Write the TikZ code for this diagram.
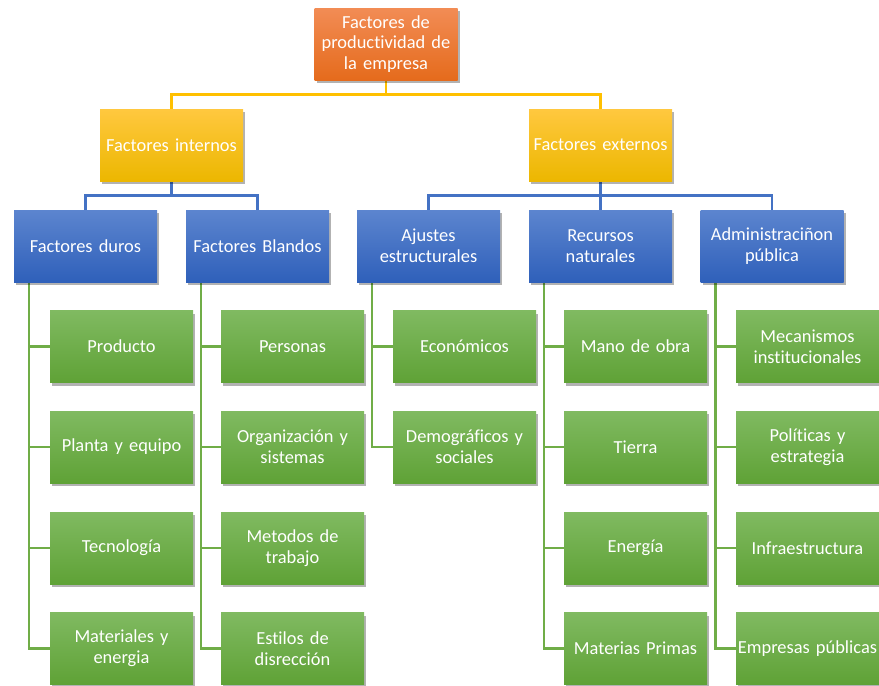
\documentclass[tikz,border=0pt]{standalone}
\usepackage{fontspec}
\setmainfont{Carlito}[Ligatures=NoCommon,WordSpace=0.8]
\usetikzlibrary{shadows,backgrounds}
\definecolor{orT}{HTML}{F28C55}
\definecolor{orB}{HTML}{E56B1C}
\definecolor{yeT}{HTML}{FFC83F}
\definecolor{yeB}{HTML}{ECB700}
\definecolor{blT}{HTML}{5C85CF}
\definecolor{blB}{HTML}{2F60BA}
\definecolor{grT}{HTML}{80BA61}
\definecolor{grB}{HTML}{5FA236}
\definecolor{lnY}{HTML}{FFC000}
\definecolor{lnB}{HTML}{4472C4}
\definecolor{lnG}{HTML}{70AD47}
\tikzset{
  boxbase/.style={minimum width=143pt, minimum height=72pt, inner sep=0pt,
    text width=141pt, align=center, text=white,
    font=\fontsize{18.4}{20.7}\selectfont,
    drop shadow={shadow xshift=2pt, shadow yshift=-3pt, opacity=0.3, fill=black}},
  orbox/.style={boxbase, top color=orT, bottom color=orB},
  yebox/.style={boxbase, top color=yeT, bottom color=yeB},
  blbox/.style={boxbase, top color=blT, bottom color=blB},
  grbox/.style={boxbase, top color=grT, bottom color=grB},
  lineY/.style={draw=lnY, line width=2.6pt},
  lineB/.style={draw=lnB, line width=2.6pt},
  lineG/.style={draw=lnG, line width=2.4pt},
}
\begin{document}
\begin{tikzpicture}[x=1pt,y=-1pt]
\useasboundingbox (0,0) rectangle (879,686);
\node[orbox] (top) at (386,44) {Factores de\\productividad de\\la empresa};
\node[yebox] (int) at (171.5,145) {Factores internos};
\node[yebox] (ext) at (600.5,145) {Factores externos};
\node[blbox] (duros) at (85.5,246) {Factores duros};
\node[blbox] (bland) at (257.5,246) {Factores Blandos};
\node[blbox] (ajus) at (428.5,246) {Ajustes\\estructurales};
\node[blbox] (recu) at (600.5,246) {Recursos\\naturales};
\node[blbox] (admi) at (772,246) {Administraciñon\\pública};
\node[grbox] (g11) at (121.5,346.5) {Producto};
\node[grbox] (g12) at (121.5,447) {Planta y equipo};
\node[grbox] (g13) at (121.5,548) {Tecnología};
\node[grbox] (g14) at (121.5,648.5) {Materiales y\\energia};
\node[grbox] (g21) at (292.5,346.5) {Personas};
\node[grbox] (g22) at (292.5,447) {Organización y\\sistemas};
\node[grbox] (g23) at (292.5,548) {Metodos de\\trabajo};
\node[grbox] (g24) at (292.5,648.5) {Estilos de\\disrección};
\node[grbox] (g31) at (464.5,346.5) {Económicos};
\node[grbox] (g32) at (464.5,447) {Demográficos y\\sociales};
\node[grbox] (g41) at (635.5,346.5) {Mano de obra};
\node[grbox] (g42) at (635.5,447) {Tierra};
\node[grbox] (g43) at (635.5,548) {Energía};
\node[grbox] (g44) at (635.5,648.5) {Materias Primas};
\node[grbox] (g51) at (807.5,346.5) {Mecanismos\\institucionales};
\node[grbox] (g52) at (807.5,447) {Políticas y\\estrategia};
\node[grbox] (g53) at (807.5,548) {Infraestructura};
\node[grbox] (g54) at (807.5,648.5) {Empresas públicas};
\begin{pgfonlayer}{background}
\begin{scope}[line cap=rect]
\draw[lineY] (top.south) -- ++(0,14) -| (int.north);
\draw[lineY] (top.south) -- ++(0,14) -| (ext.north);
\draw[lineB] (int.south) -- ++(0,14) -| (duros.north);
\draw[lineB] (int.south) -- ++(0,14) -| (bland.north);
\draw[lineB] (ext.south) -- ++(0,14) -| (ajus.north);
\draw[lineB] (ext.south) -- (recu.north);
\draw[lineB] (ext.south) -- ++(0,14) -| (admi.north);
\end{scope}
\foreach \p/\c in {duros/g11,duros/g12,duros/g13,duros/g14,
                   bland/g21,bland/g22,bland/g23,bland/g24,
                   ajus/g31,ajus/g32,
                   recu/g41,recu/g42,recu/g43,recu/g44,
                   admi/g51,admi/g52,admi/g53,admi/g54}
  \draw[lineG] ([xshift=15pt]\p.south west) |- (\c.west);
\end{pgfonlayer}
\end{tikzpicture}
\end{document}
